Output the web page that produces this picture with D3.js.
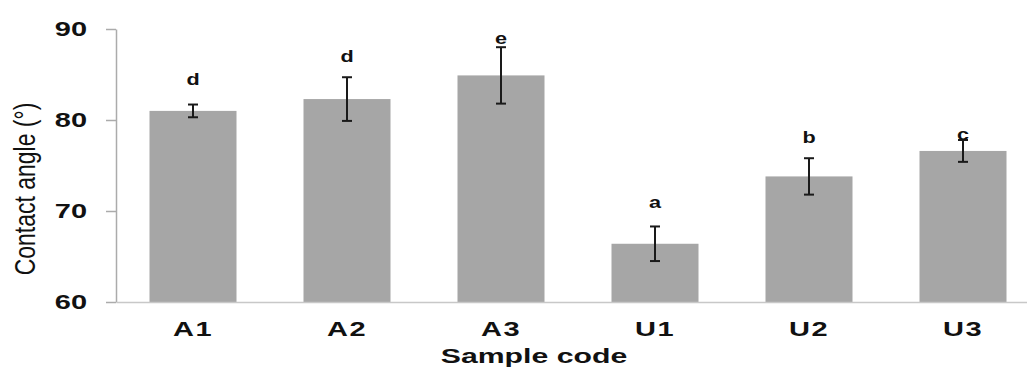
<!DOCTYPE html>
<html>
<head>
<meta charset="utf-8">
<script src="https://cdn.jsdelivr.net/npm/d3@7"></script>
<style>
    body { margin: 0; background: #fff; }
    svg { display: block; font-family: "Liberation Sans", Arial, sans-serif; }
</style>
</head>
<body>
<svg id="chart" width="1027" height="369"></svg>
<script>
// values
const samples = ["A1", "A2", "A3", "U1", "U2", "U3"];
const contactAngle = [81.0, 82.3, 84.9, 66.4, 73.8, 76.6];
const errorSize = [0.7, 2.4, 3.1, 1.9, 2.0, 1.2];
const groupLetters = ["d", "d", "e", "a", "b", "c"];
const letterAt = [83.8, 86.4, 88.4, 70.3, 77.5, 77.8]; // baseline of letter, in data units
const yTicks = [60, 70, 80, 90];

let svg = d3.select("#chart");

let x = d3.scaleBand()
    .domain(samples)
    .range([116, 1040])
    .paddingInner(0.435)
    .paddingOuter(0.2175);

let y = d3.scaleLinear()
    .domain([60, 90])
    .range([302, 29]);

let data = samples.map((s, i) => ({
    name: s,
    value: contactAngle[i],
    err: errorSize[i],
    letter: groupLetters[i],
    letterY: letterAt[i]
}));

// bars
svg.append("g")
    .selectAll("rect")
    .data(data)
    .join("rect")
    .attr("x", d => x(d.name))
    .attr("y", d => y(d.value))
    .attr("width", x.bandwidth())
    .attr("height", d => y(60) - y(d.value))
    .attr("fill", "#a6a6a6");

// y axis
let sxTick = 1.45;
let yAxis = svg.append("g")
    .attr("transform", "translate(116,0)")
    .call(d3.axisLeft(y).tickValues(yTicks).tickSize(10).tickSizeOuter(0));
yAxis.select(".domain").attr("stroke", "#ababab").attr("stroke-width", 1.5);
yAxis.selectAll(".tick line").attr("stroke", "#ababab").attr("stroke-width", 1.5);
yAxis.selectAll(".tick text")
    .attr("x", -29 / sxTick)
    .attr("dy", "0.3em")
    .attr("transform", `scale(${sxTick},1)`)
    .attr("font-size", 20)
    .attr("font-weight", "bold")
    .attr("font-family", "Liberation Sans, Arial, sans-serif")
    .attr("fill", "#111");

// x axis
let xAxis = svg.append("g")
    .attr("transform", "translate(0,302)")
    .call(d3.axisBottom(x).tickSize(0).tickSizeOuter(0));
xAxis.select(".domain").attr("stroke", "#c8c8c8").attr("stroke-width", 1.5);
xAxis.selectAll(".tick text")
    .attr("y", 34)
    .attr("dy", "0")
    .attr("letter-spacing", "1px")
    .attr("transform", `scale(${sxTick},1)`)
    .attr("font-size", 20)
    .attr("font-weight", "bold")
    .attr("font-family", "Liberation Sans, Arial, sans-serif")
    .attr("fill", "#111");

// error bars
let errs = svg.append("g")
    .attr("stroke", "#1a1a1a")
    .attr("stroke-width", 2);
data.forEach(d => {
    let cx = x(d.name) + x.bandwidth() / 2;
    errs.append("line")
        .attr("x1", cx).attr("x2", cx)
        .attr("y1", y(d.value + d.err)).attr("y2", y(d.value - d.err));
    [d.value + d.err, d.value - d.err].forEach(v => {
        errs.append("line")
            .attr("x1", cx - 5).attr("x2", cx + 5)
            .attr("y1", y(v)).attr("y2", y(v));
    });
});

// significance letters
let sxLetter = 1.27;
svg.append("g")
    .selectAll("text")
    .data(data)
    .join("text")
    .attr("transform", d => `translate(${x(d.name) + x.bandwidth() / 2},${y(d.letterY)}) scale(${sxLetter},1)`)
    .attr("text-anchor", "middle")
    .attr("font-size", 17)
    .attr("font-weight", "bold")
    .attr("fill", "#111")
    .text(d => d.letter);

// axis titles
svg.append("text")
    .attr("transform", "translate(534,363) scale(1.44,1)")
    .attr("text-anchor", "middle")
    .attr("font-size", 21)
    .attr("font-weight", "bold")
    .attr("fill", "#111")
    .text("Sample code");

svg.append("text")
    .attr("transform", "translate(35,189) rotate(-90) scale(1,1.3)")
    .attr("text-anchor", "middle")
    .attr("font-size", 23)
    .attr("fill", "#111")
    .text("Contact angle (°)");
</script>
</body>
</html>
